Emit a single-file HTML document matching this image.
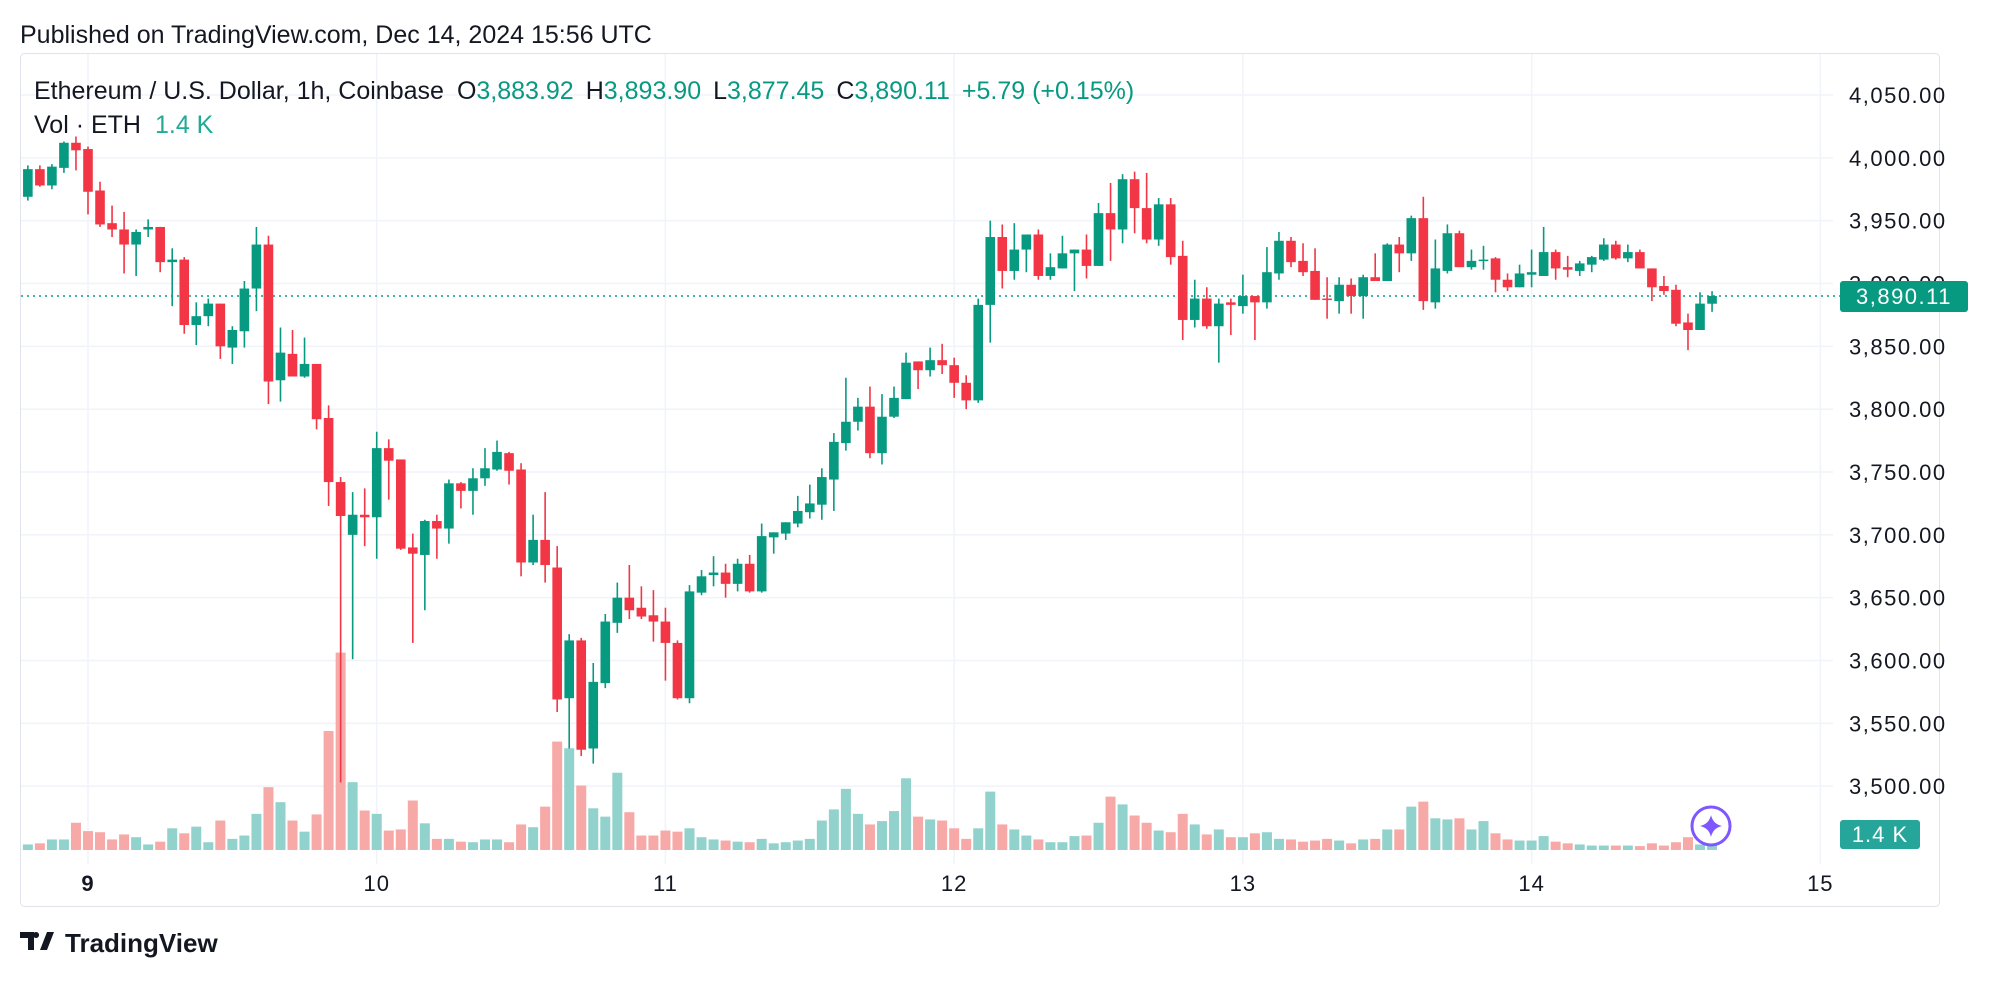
<!DOCTYPE html>
<html><head><meta charset="utf-8">
<style>
html,body{margin:0;padding:0;background:#fff;}
body{width:1996px;height:978px;overflow:hidden;font-family:"Liberation Sans",sans-serif;}
svg text{font-family:"Liberation Sans",sans-serif;}
</style></head>
<body>
<svg id="chart" width="1996" height="978" viewBox="0 0 1996 978" xmlns="http://www.w3.org/2000/svg">
  <text x="20" y="43" font-size="25" fill="#131722">Published on TradingView.com, Dec 14, 2024 15:56 UTC</text>
  <rect x="20.5" y="53.5" width="1919" height="853" rx="4" fill="#fff" stroke="#e0e3eb" stroke-width="1"/>
  <g id="grid"></g>
  <g id="vols" clip-path="url(#plotclip)"></g>
  <line x1="21" x2="1840" y1="296" y2="296" stroke="#089981" stroke-width="1.5" stroke-dasharray="2,4"/>
  <g id="candles" clip-path="url(#plotclip)"></g>
  <defs><clipPath id="plotclip"><rect x="21" y="54" width="1812" height="810"/></clipPath></defs>
  <g id="yaxis"></g>
  <g id="xaxis"></g>
  <g>
    <text x="34" y="99" font-size="25" fill="#131722">Ethereum / U.S. Dollar, 1h, Coinbase<tspan dx="13">O</tspan><tspan fill="#089981">3,883.92</tspan><tspan dx="12">H</tspan><tspan fill="#089981">3,893.90</tspan><tspan dx="12">L</tspan><tspan fill="#089981">3,877.45</tspan><tspan dx="12">C</tspan><tspan fill="#089981">3,890.11</tspan><tspan dx="12" fill="#089981">+5.79 (+0.15%)</tspan></text>
    <text x="34" y="133" font-size="25" fill="#131722">Vol · ETH<tspan dx="14" fill="#22ab94">1.4 K</tspan></text>
  </g>
  <g>
    <rect x="1840" y="281" width="128" height="31" rx="3" fill="#089981"/>
    <text x="1904" y="304" font-size="22" fill="#fff" text-anchor="middle" letter-spacing="1.5">3,890.11</text>
  </g>
  <g>
    <rect x="1840" y="820" width="80" height="29" rx="3" fill="#26a69a"/>
    <text x="1880" y="842" font-size="22" fill="#fff" text-anchor="middle" letter-spacing="1">1.4 K</text>
  </g>
  <g>
    <circle cx="1711" cy="826" r="19" fill="#fff" stroke="#7e57ff" stroke-width="3"/>
    <path d="M1711 815 Q1713 824 1722 826 Q1713 828 1711 837 Q1709 828 1700 826 Q1709 824 1711 815Z" fill="#7e57ff"/>
  </g>
  <g>
    <path d="M20 932 h14 v18 h-6 v-12 h-8z M36 938 a3 3 0 1 1 0.1 0z M40 950 l7 -18 h7 l-7 18z" fill="#131722"/>
    <text x="65" y="952" font-size="26" font-weight="bold" fill="#131722">TradingView</text>
  </g>
</svg>
<script>
const startIndex = -6;
const opens = [3987,3969,3991,3978,3992,4012,4007,3974,3948,3943,3931,3943,3945,3917,3919,3867,3874,3884,3849,3862,3896,3931,3823,3844,3826,3836,3793,3742,3700,3716,3714,3769,3760,3690,3684,3711,3705,3741,3735,3745,3752,3765,3752,3678,3696,3674,3570,3616,3530,3582,3630,3650,3642,3636,3631,3614,3570,3654,3668,3670,3661,3677,3655,3698,3701,3709,3718,3724,3744,3773,3790,3802,3765,3794,3808,3838,3831,3839,3835,3821,3807,3883,3937,3910,3927,3939,3906,3912,3924,3927,3914,3956,3943,3983,3960,3935,3963,3922,3871,3888,3866,3885,3882,3890,3885,3908,3934,3918,3910,3888,3886,3899,3890,3905,3902,3931,3924,3952,3885,3910,3940,3913,3918,3920,3903,3897,3907,3906,3925,3913,3910,3915,3919,3931,3920,3925,3912,3898,3895,3869,3863,3883.92];
const highs = [3990,3994,3994,3995,4013,4017,4009,3981,3962,3957,3943,3951,3945,3928,3921,3885,3888,3884,3866,3902,3945,3938,3865,3863,3857,3836,3803,3746,3734,3737,3782,3776,3760,3701,3712,3716,3744,3742,3753,3769,3775,3766,3757,3716,3734,3691,3621,3618,3598,3637,3662,3676,3659,3656,3642,3616,3660,3672,3683,3677,3681,3684,3709,3702,3710,3731,3740,3753,3781,3825,3809,3818,3812,3818,3845,3838,3849,3852,3841,3827,3888,3950,3947,3948,3939,3943,3924,3938,3927,3939,3964,3980,3987,3989,3988,3968,3968,3934,3903,3897,3888,3888,3907,3890,3929,3941,3937,3932,3928,3905,3905,3904,3907,3924,3932,3937,3954,3969,3935,3947,3942,3927,3930,3921,3908,3915,3927,3945,3927,3922,3918,3922,3936,3934,3931,3927,3912,3906,3899,3876,3893,3893.90];
const lows = [3967,3966,3977,3975,3988,3990,3955,3945,3937,3908,3906,3937,3909,3882,3860,3851,3866,3840,3836,3849,3878,3804,3806,3826,3825,3784,3723,3503,3601,3691,3681,3728,3688,3614,3640,3681,3693,3721,3716,3739,3751,3740,3667,3676,3662,3559,3530,3524,3518,3578,3622,3633,3633,3615,3584,3569,3566,3652,3659,3650,3655,3654,3654,3685,3696,3706,3713,3712,3719,3767,3783,3761,3756,3793,3808,3816,3826,3828,3809,3800,3805,3853,3896,3903,3909,3903,3903,3912,3894,3904,3914,3918,3932,3940,3932,3930,3915,3855,3865,3864,3837,3859,3876,3855,3880,3903,3913,3906,3887,3872,3876,3876,3872,3902,3902,3909,3918,3879,3880,3908,3913,3911,3911,3893,3894,3897,3897,3906,3903,3905,3906,3909,3918,3919,3917,3912,3886,3891,3866,3847,3863,3877.45];
const closes = [3969,3991,3978,3993,4012,4006,3973,3947,3943,3931,3941,3945,3917,3919,3867,3874,3884,3850,3863,3896,3931,3822,3845,3826,3836,3792,3742,3715,3716,3714,3769,3759,3689,3685,3711,3705,3741,3735,3745,3753,3766,3751,3678,3696,3676,3569,3616,3529,3583,3631,3650,3640,3635,3631,3614,3570,3655,3667,3670,3661,3677,3655,3699,3702,3710,3719,3725,3746,3774,3790,3802,3765,3794,3809,3837,3831,3839,3835,3821,3807,3883,3937,3910,3927,3939,3906,3913,3924,3927,3914,3956,3943,3983,3960,3935,3963,3921,3871,3888,3866,3884,3883,3890,3885,3909,3934,3917,3909,3887,3887,3899,3890,3905,3902,3931,3924,3952,3886,3912,3940,3913,3918,3919,3903,3897,3908,3909,3925,3912,3911,3916,3921,3931,3920,3925,3912,3897,3894,3868,3863,3884,3890.11];
const volumesK = [1.4,1.0,1.2,1.9,1.9,4.9,3.4,3.2,1.9,2.8,2.3,1.0,1.5,3.9,3.0,4.2,1.4,5.3,2.0,2.6,6.5,11.3,8.6,5.3,3.3,6.4,21.4,35.5,12.2,7.1,6.5,3.5,3.7,8.9,4.8,2.0,2.0,1.5,1.4,1.9,1.9,1.4,4.6,4.1,7.8,19.5,18.3,11.6,7.5,6.0,13.9,6.8,2.6,2.6,3.5,3.3,3.9,2.3,1.9,1.7,1.5,1.4,2.0,1.2,1.4,1.7,2.0,5.3,7.3,11.0,6.5,4.6,5.2,7.0,12.9,6.0,5.5,5.3,3.9,2.0,3.9,10.5,4.6,3.7,2.6,1.9,1.4,1.4,2.5,2.6,4.9,9.6,8.2,6.2,4.9,3.5,3.2,6.5,4.6,2.8,3.7,2.3,2.3,3.0,3.2,2.0,1.9,1.5,1.7,2.0,1.7,1.2,1.9,2.0,3.7,3.7,7.8,8.7,5.7,5.5,5.7,3.7,5.2,3.0,1.9,1.7,1.7,2.5,1.5,1.2,1.0,0.8,0.8,0.8,0.8,0.7,1.2,0.8,1.4,2.3,1.0,1.4];
const priceTicks = [4050,4000,3950,3900,3850,3800,3750,3700,3650,3600,3550,3500];
const priceTickLabels = ["4,050.00","4,000.00","3,950.00","3,900.00","3,850.00","3,800.00","3,750.00","3,700.00","3,650.00","3,600.00","3,550.00","3,500.00"];
const dayTicks = [9,10,11,12,13,14,15];

const NS = "http://www.w3.org/2000/svg";
function yPrice(p){ return 95 + (4050 - p) * 1.2567; }
function xHour(h){ return 88 + h * 12.03; }
function xDay(d){ return xHour((d - 9) * 24); }
function yVol(v){ return 850 - v * 5.56; }
function mk(tag, attrs, parent){ const e = document.createElementNS(NS, tag); for (const k in attrs) e.setAttribute(k, attrs[k]); parent.appendChild(e); return e; }

const grid = document.getElementById('grid');
const yaxis = document.getElementById('yaxis');
const xaxis = document.getElementById('xaxis');
priceTicks.forEach((p, i) => {
  const y = yPrice(p);
  const gl = mk('line', {x1:21, x2:1833, y1:y, y2:y, stroke:'#f0f3fa', 'stroke-width':1.5}, grid);
  
  
  const t = mk('text', {x:1849, y:y+8, 'font-size':22, fill:'#131722', 'letter-spacing':1.5}, yaxis);
  t.textContent = priceTickLabels[i];
  
  
});
dayTicks.forEach(d => {
  const x = xDay(d);
  const gl = mk('line', {x1:x, x2:x, y1:54, y2:864, stroke:'#f0f3fa', 'stroke-width':1.5}, grid);
  
  
  const t = mk('text', {x:x, y:891, 'font-size':22, fill:'#131722', 'text-anchor':'middle', 'letter-spacing':1, 'font-weight': d === 9 ? 'bold' : 'normal'}, xaxis);
  t.textContent = String(d);
  
  
});

const cg = document.getElementById('candles');
const vg = document.getElementById('vols');
for (let i = 0; i < opens.length; i++) {
  const h = startIndex + i;
  const x = xHour(h);
  const up = closes[i] >= opens[i];
  const col = up ? '#089981' : '#f23645';
  const vb = mk('rect', {x:x-5, y:yVol(volumesK[i]), width:10, height:850-yVol(volumesK[i]), fill: up ? '#92d2cc' : '#f7a9a7'}, vg);
  
  
  const wick = mk('line', {x1:x, x2:x, y1:yPrice(highs[i]), y2:yPrice(lows[i]), stroke:col, 'stroke-width':1.6}, cg);
  
  
  const top = yPrice(Math.max(opens[i], closes[i]));
  const bot = yPrice(Math.min(opens[i], closes[i]));
  const body = mk('rect', {x:x-4.8, y:top, width:9.6, height:Math.max(1.5, bot-top), fill:col}, cg);
  
  
}
</script>
</body></html>
